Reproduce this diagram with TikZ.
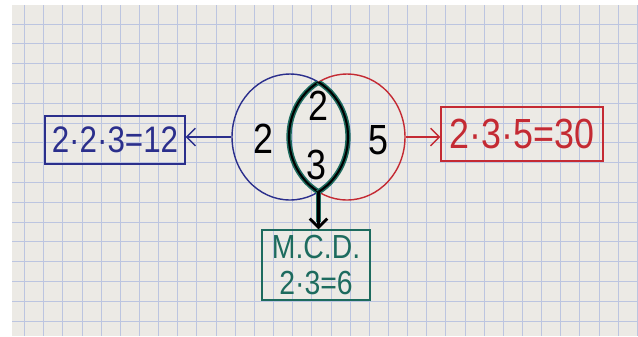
\documentclass[tikz,border=0pt]{standalone}
\usepackage{fontspec}
\usetikzlibrary{shapes.geometric,arrows.meta}
\newfontfamily\hand[FakeStretch=0.85]{Liberation Sans}

\definecolor{inkblue}{HTML}{2B2F8C}
\definecolor{inkred}{HTML}{C42A33}
\definecolor{inkgreen}{HTML}{1D6B5E}
\definecolor{paper}{HTML}{ECEAE5}
\definecolor{gridblue}{HTML}{BCC5E0}

\tikzset{
  setshape/.style={ellipse, line width=0.8pt, inner sep=0pt,
    minimum width=2.32cm, minimum height=2.52cm},
  factor/.style={font=\hand\fontsize{24}{24}\selectfont},
  resultbox/.style={draw, line width=0.8pt, inner sep=2pt},
  handarrow/.style={line width=0.8pt, -{Straight Barb[length=5pt,width=10pt]}},
}

\begin{document}
\begin{tikzpicture}[x=0.02cm, y=-0.02cm]
\useasboundingbox (0,0) rectangle (638,336);

% Paper
\fill[white] (0,0) rectangle (638,336);
\fill[paper] (12,5) rectangle (638,336);
\foreach \i in {0,...,32}
  \draw[gridblue, line width=0.45pt] ({24.5+19.15*\i},5) -- ({24.5+19.15*\i},336);
\foreach \j in {0,...,16}
  \draw[gridblue, line width=0.45pt] (12,{24+19.8*\j}) -- (638,{24+19.8*\j});

% Sets
\node[setshape, draw=inkblue] (setA) at (290,137) {};
\node[setshape, draw=inkred] (setB) at (347,137) {};

% Common part
\begin{scope}
\clip (setA.center) ellipse [x radius=1.16cm, y radius=1.26cm];
\draw[inkgreen, line width=3pt] (setB.center) ellipse [x radius=1.16cm, y radius=1.26cm];
\draw[black, line width=1.2pt] (setB.center) ellipse [x radius=1.16cm, y radius=1.26cm];
\end{scope}
\begin{scope}
\clip (setB.center) ellipse [x radius=1.16cm, y radius=1.26cm];
\draw[inkgreen, line width=3pt] (setA.center) ellipse [x radius=1.16cm, y radius=1.26cm];
\draw[black, line width=1.2pt] (setA.center) ellipse [x radius=1.16cm, y radius=1.26cm];
\end{scope}
\coordinate (lensbot) at (318.5,192);

\node[factor] (onlyA) at (263,139) {2};
\node[factor] (bothtwo) at (318,106) {2};
\node[factor] (boththree) at (316,165) {3};
\node[factor] (onlyB) at (378,140) {5};

% Results
\node[resultbox, draw=inkblue, text=inkblue, minimum width=2.8cm, minimum height=0.96cm,
  font=\hand\fontsize{21}{21}\selectfont] (lcmA) at (115,140) {2·2·3=12};
\node[resultbox, draw=inkred, text=inkred, minimum width=3.24cm, minimum height=1.08cm,
  font=\hand\fontsize{24}{24}\selectfont] (lcmB) at (522,134) {2·3·5=30};
\node[resultbox, draw=inkgreen, text=inkgreen, minimum width=2.16cm, minimum height=1.4cm,
  align=center, font=\hand\fontsize{19}{21}\selectfont] (gcd) at (316,265) {M.C.D.\\2·3=6};

\draw[handarrow, inkblue] (setA.west) -- (setA.west -| lcmA.east);
\draw[handarrow, inkred] (setB.east) -- (setB.east -| lcmB.west);
\draw[inkgreen, line width=3pt] (lensbot) -- ++(0,30);
\draw[handarrow, black, line width=1.6pt] (lensbot) -- (lensbot |- gcd.north);
\end{tikzpicture}
\end{document}
